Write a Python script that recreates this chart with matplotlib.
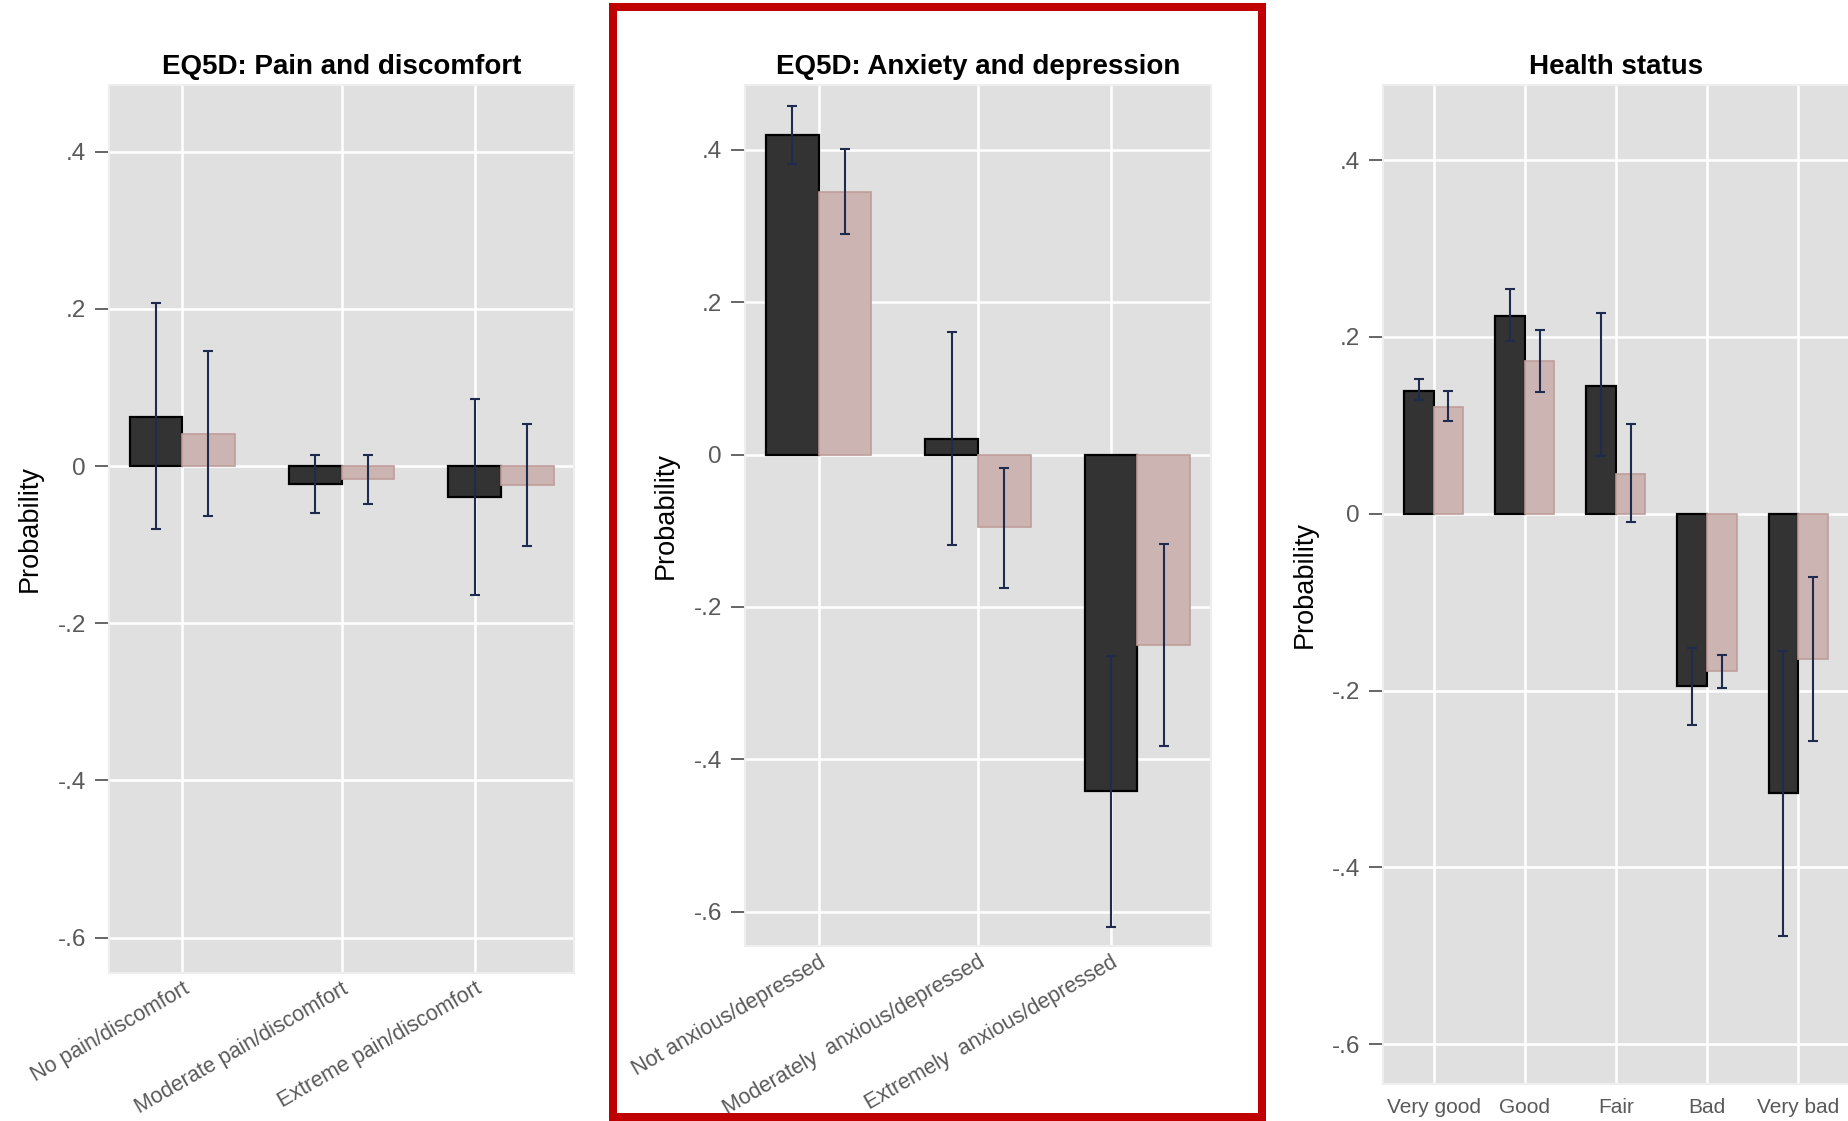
import matplotlib
matplotlib.use("Agg")
import matplotlib.pyplot as plt
from matplotlib.patches import Rectangle
import numpy as np

plt.rcParams['font.family'] = ['Liberation Sans', 'DejaVu Sans']

# ---- data -------------------------------------------------------------
pain_cats = ["No pain/discomfort", "Moderate pain/discomfort", "Extreme pain/discomfort"]
pain_a = [0.062, -0.023, -0.039]
pain_a_lo = [-0.080, -0.060, -0.164]
pain_a_hi = [0.207, 0.014, 0.086]
pain_b = [0.041, -0.016, -0.024]
pain_b_lo = [-0.063, -0.048, -0.102]
pain_b_hi = [0.146, 0.014, 0.053]

anx_cats = ["Not anxious/depressed", "Moderately  anxious/depressed", "Extremely  anxious/depressed"]
anx_a = [0.419, 0.021, -0.441]
anx_a_lo = [0.381, -0.119, -0.620]
anx_a_hi = [0.458, 0.161, -0.265]
anx_b = [0.345, -0.095, -0.250]
anx_b_lo = [0.290, -0.175, -0.383]
anx_b_hi = [0.401, -0.018, -0.117]

health_cats = ["Very good", "Good", "Fair", "Bad", "Very bad"]
health_a = [0.139, 0.224, 0.145, -0.195, -0.316]
health_a_lo = [0.129, 0.195, 0.065, -0.239, -0.478]
health_a_hi = [0.152, 0.254, 0.227, -0.152, -0.155]
health_b = [0.121, 0.173, 0.045, -0.178, -0.164]
health_b_lo = [0.105, 0.138, -0.009, -0.197, -0.257]
health_b_hi = [0.139, 0.208, 0.101, -0.160, -0.071]

yticks = [-0.6, -0.4, -0.2, 0.0, 0.2, 0.4]
ytick_labels = ["-.6", "-.4", "-.2", "0", ".2", ".4"]

# ---- style ------------------------------------------------------------
W, H = 1849, 1121
DARK = "#333333"
PINK = "#CBB4B1"
PINK_EDGE = "#BE9E9A"
ERR = "#1E2B4F"
BG = "#E0E0E0"
TICKC = "#595959"

fig = plt.figure(figsize=(W / 100, H / 100), dpi=100)


def px_axes(left, top, right, bottom):
    return fig.add_axes([left / W, 1 - bottom / H, (right - left) / W, (bottom - top) / H])


def panel(ax, title, cats, a, a_lo, a_hi, b, b_lo, b_hi, w, xlim, tick_pos,
          rotate, ylab_x):
    x = np.arange(1, len(cats) + 1)
    a = np.asarray(a); b = np.asarray(b)
    ax.set_facecolor(BG)
    ax.bar(x - w / 2, a, width=w, color=DARK, edgecolor="black", linewidth=1.6, zorder=3)
    ax.bar(x + w / 2, b, width=w, color=PINK, edgecolor=PINK_EDGE, linewidth=1.2, zorder=3)
    ax.errorbar(x - w / 2, a, yerr=[a - np.asarray(a_lo), np.asarray(a_hi) - a],
                fmt="none", ecolor=ERR, elinewidth=1.5, capsize=3.6, capthick=1.5, zorder=4)
    ax.errorbar(x + w / 2, b, yerr=[b - np.asarray(b_lo), np.asarray(b_hi) - b],
                fmt="none", ecolor=ERR, elinewidth=1.5, capsize=3.6, capthick=1.5, zorder=4)
    ax.set_xlim(*xlim)
    ax.set_ylim(-0.645, 0.485)
    ax.set_yticks(yticks)
    ax.set_yticklabels(ytick_labels)
    ax.set_xticks(tick_pos)
    if rotate:
        ax.set_xticklabels(cats, rotation=30, ha="right", va="top", rotation_mode="anchor")
        ax.tick_params(axis="x", length=0, pad=4, labelsize=15.5, labelcolor=TICKC)
    else:
        ax.set_xticklabels(cats)
        ax.tick_params(axis="x", length=0, pad=10, labelsize=15, labelcolor=TICKC)
    ax.tick_params(axis="y", length=10, width=1.3, color=TICKC, pad=6.5,
                   labelsize=17.5, labelcolor=TICKC)
    ax.grid(True, color="white", linewidth=1.8, zorder=1)
    ax.set_axisbelow(True)
    for s in ax.spines.values():
        s.set_color("#EEEEEE")
        s.set_linewidth(1.5)
    ax.set_title(title, fontsize=20, fontweight="bold", pad=8)
    ax.set_ylabel("Probability", fontsize=19.5)
    ax.yaxis.set_label_coords(ylab_x, 0.5)


w3 = 0.33
ax1 = px_axes(109, 85, 574, 973)
panel(ax1, "EQ5D: Pain and discomfort", pain_cats, pain_a, pain_a_lo, pain_a_hi,
      pain_b, pain_b_lo, pain_b_hi, w3, (0.541, 3.458), [1, 2, 3 - w3 / 2], True, -0.142)

ax2 = px_axes(745, 85, 1211, 946)
panel(ax2, "EQ5D: Anxiety and depression", anx_cats, anx_a, anx_a_lo, anx_a_hi,
      anx_b, anx_b_lo, anx_b_hi, w3, (0.538, 3.462), [1, 2, 3 - w3 / 2], True, -0.143)

w5 = 0.325
ax3 = px_axes(1383, 85, 1849, 1084)
panel(ax3, "Health status", health_cats, health_a, health_a_lo, health_a_hi,
      health_b, health_b_lo, health_b_hi, w5, (0.445, 5.558), [1, 2, 3, 4, 5], False, -0.139)

# highlight frame around the middle panel
fig.patches.append(Rectangle((613 / W, 1 - 1117 / H), (1262 - 613) / W, (1117 - 7) / H,
                             transform=fig.transFigure, fill=False,
                             edgecolor="#C00000", linewidth=8 * 0.72))

fig.savefig("out.png", dpi=100, facecolor="white")
